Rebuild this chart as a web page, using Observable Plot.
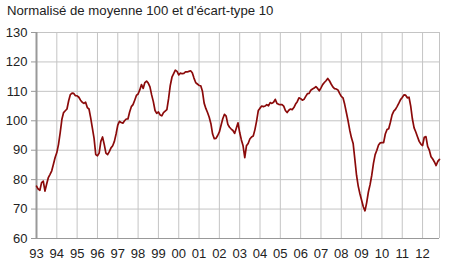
<!DOCTYPE html>
<html><head><meta charset="utf-8">
<script src="https://cdn.jsdelivr.net/npm/d3@7"></script>
<script src="https://cdn.jsdelivr.net/npm/@observablehq/plot@0.6"></script>
<style>
body{margin:0;background:#fff;font-family:"Liberation Sans",Arial,sans-serif;}
#title{height:22px;line-height:22px;font-size:13.2px;padding-left:7px;color:#222;white-space:nowrap;}
#chart svg{display:block;}
</style></head><body>
<div id="title">Normalisé de moyenne 100 et d'écart-type 10</div>
<div id="chart"></div>
<script>
const startYear = 1993;
const values = [
77.8,76.8,76.4,79,79.5,76.1,78.5,80.7,81.8,83,85.2,87.5,
89.2,92,96,100.5,102.8,103.4,104,106.8,108.9,109.4,109.3,108.5,
108.5,108,107,106.3,105.9,106.3,104.5,104,101,97.5,94,88.5,
88.1,89,93,94.5,92,89,88.5,89.5,90.8,91.5,93,95.5,
98.5,99.8,99.4,99.2,100,100.6,100.6,103,104.8,105.5,107,108.6,
109.1,110.5,112.3,111,113,113.5,112.8,111.5,108.8,106.5,103.5,102.5,
103,102,101.7,102.8,103.3,103.8,107.5,112,114.8,116,117.2,116.8,
115.6,116.2,116,116.1,116.6,116.6,116.8,117,116.3,114.5,113,112.5,
112,111.9,110,106,104.2,102.8,101.2,99,95.5,93.9,94,95,
96.2,98.5,100.7,102.2,101.6,98.8,97.8,97.2,96.7,95.7,97.5,99.3,
96,93.5,91.5,87.5,91.5,92.3,93.8,94.5,94.8,97,100,103.5,
104.3,105,104.8,105,105.5,105.1,106.2,105.9,106.3,107.3,105.9,105.6,
105.5,105.5,105,103.5,102.8,103.6,104,103.8,104.5,105.7,106.5,107.8,
107.5,107,107.3,108.3,109.2,109.3,110.4,110.8,111.1,111.6,111,110.2,
111.2,112.3,113,113.6,114.4,113.6,112.5,111.5,110.9,110.8,110.5,109.3,
108.3,107.8,105.6,102.8,100,96.8,94.2,92.3,87,81.5,77.8,75.2,
73,70.8,69.4,72.2,75.8,78.3,81.5,85.5,88.5,90,91.8,92.5,
92.6,92.6,95.5,97,97.3,99.5,102,103.3,103.9,104.9,106,107.2,
107.9,108.8,108.7,107.8,108,105,100.6,97.6,96.2,94.6,93,92.1,
91.6,94.4,94.6,91.3,90,87.8,87,86,84.8,86.2,86.9
];
const tickYears = [1993,1994,1995,1996,1997,1998,1999,2000,2001,2002,2003,2004,2005,2006,2007,2008,2009,2010,2011,2012];
const tickLabels = ["93","94","95","96","97","98","99","00","01","02","03","04","05","06","07","08","09","10","11","12"];
const yTicks = [60,70,80,90,100,110,120,130];

const data = values.map((v, i) => ({t: startYear + i / 12, v}));
const xEnd = startYear + (values.length - 1) / 12;

const chart = Plot.plot({
  width: 450, height: 257,
  marginLeft: 36, marginRight: 11, marginTop: 10, marginBottom: 41,
  style: {fontFamily: '"Liberation Sans", Arial, sans-serif', fontSize: "13px", color: "#222", background: "#fff"},
  x: {domain: [startYear, xEnd], label: null},
  y: {domain: [60, 130], label: null},
  marks: [
    Plot.gridX(tickYears, {stroke: "#c4c4c4", strokeOpacity: 1}),
    Plot.gridY(yTicks, {stroke: "#c4c4c4", strokeOpacity: 1}),
    Plot.ruleX([xEnd], {stroke: "#c4c4c4"}),
    Plot.axisY(yTicks, {tickSize: 5, tickPadding: 4, stroke: "#999", label: null}),
    Plot.axisX(tickYears, {tickSize: 0, tickPadding: 10, tickFormat: d => tickLabels[tickYears.indexOf(d)], label: null}),
    Plot.ruleX([startYear], {stroke: "#999", strokeWidth: 2}),
    Plot.ruleY([60], {stroke: "#999"}),
    Plot.line(data, {x: "t", y: "v", stroke: "#8b0a0a", strokeWidth: 1.7})
  ]
});
document.getElementById("chart").appendChild(chart);
</script>
</body></html>
